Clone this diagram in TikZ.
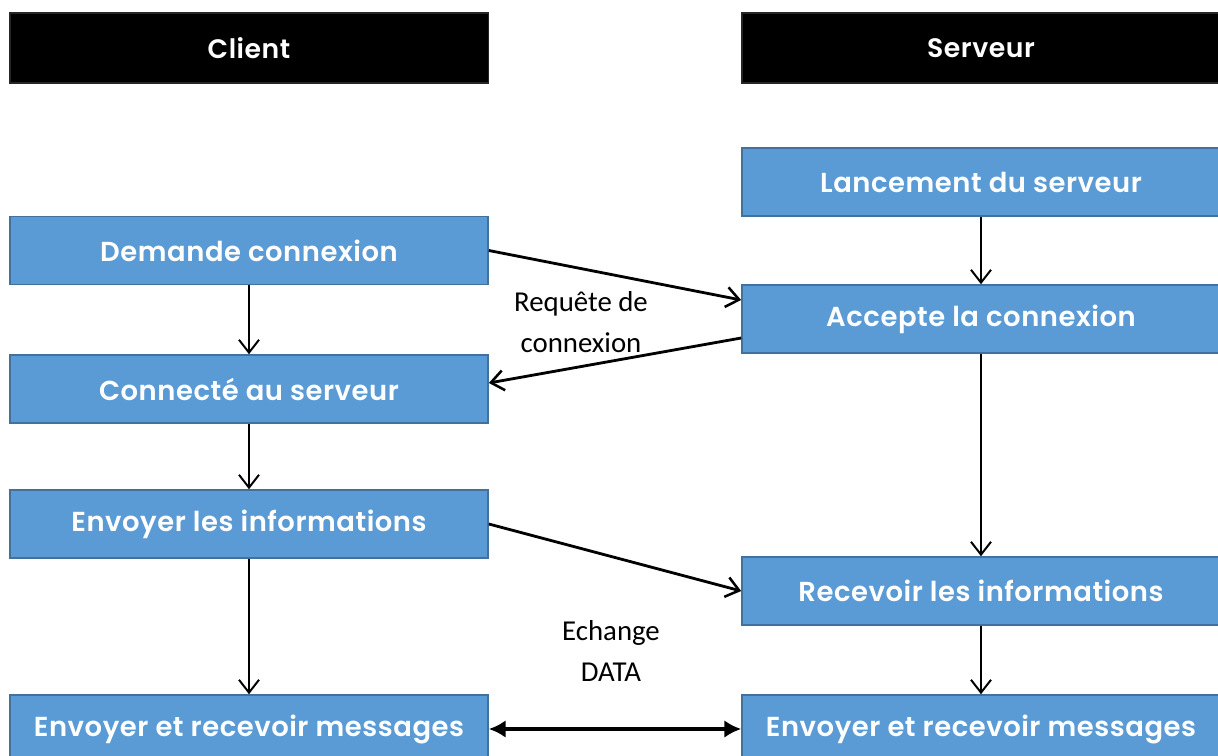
\documentclass[tikz,border=0pt]{standalone}
\usepackage{fontspec}
\setmainfont{Carlito}
\newfontfamily\gothic{Poppins}[BoldFont={Poppins SemiBold},LetterSpace=2]
\usetikzlibrary{arrows.meta}
\definecolor{boxfill}{HTML}{5B9BD5}
\definecolor{boxline}{HTML}{41719C}
\begin{document}
\begin{tikzpicture}[x=0.025cm,y=-0.025cm,
  box/.style={draw=boxline,fill=boxfill,line width=1.1pt,minimum width=11.95cm,
    minimum height=1.7cm,text=white,font=\gothic\bfseries\fontsize{19.5}{23}\selectfont},
  head/.style={draw=black!85,fill=black,line width=0.8pt,minimum width=11.95cm,
    minimum height=1.75cm,text=white,font=\gothic\bfseries\fontsize{19}{23}\selectfont},
  flow/.style={-{Straight Barb[length=3.2mm,width=5mm,line width=1.4pt]},line width=1.4pt},
  cross/.style={-{Straight Barb[length=3.2mm,width=5mm,line width=1.8pt]},line width=2pt},
  both/.style={{Latex[length=4.2mm,width=4.4mm]}-{Latex[length=4.2mm,width=4.4mm]},line width=2.2pt},
  lbl/.style={align=center,font=\fontsize{20.5}{29}\selectfont}]
  \useasboundingbox (0,0) rectangle (1218,756);
  \clip (0,0) rectangle (1218,756);
  \node[head] (client) at (249,48) {Client};
  \node[head] (serveur) at (981,48) {Serveur};
  \node[box] (lancement) at (981,182) {Lancement du serveur};
  \node[box] (demande) at (249,250.5) {Demande connexion};
  \node[box] (accepte) at (981,319) {Accepte la connexion};
  \node[box] (connecte) at (249,389) {Connecté au serveur};
  \node[box] (envinfo) at (249,524) {Envoyer les informations};
  \node[box] (recinfo) at (981,591) {Recevoir les informations};
  \node[box] (msgclient) at (249,729) {Envoyer et recevoir messages};
  \node[box] (msgserveur) at (981,729) {Envoyer et recevoir messages};
  \node[lbl] (requete) at (581,322) {Requête de\\connexion};
  \node[lbl] (echange) at (611,651) {Echange\\DATA};
  \draw[flow] (demande) -- (connecte);
  \draw[flow] (connecte) -- (envinfo);
  \draw[flow] (envinfo) -- (msgclient);
  \draw[flow] (lancement) -- (accepte);
  \draw[flow] (accepte) -- (recinfo);
  \draw[flow] (recinfo) -- (msgserveur);
  \draw[cross] (demande.east) -- ([yshift=0.475cm]accepte.west);
  \draw[cross] ([yshift=-0.475cm]accepte.west) -- ([yshift=0.15cm]connecte.east);
  \draw[cross] (envinfo.east) -- (recinfo.west);
  \draw[both] (msgclient) -- (msgserveur);
\end{tikzpicture}
\end{document}
